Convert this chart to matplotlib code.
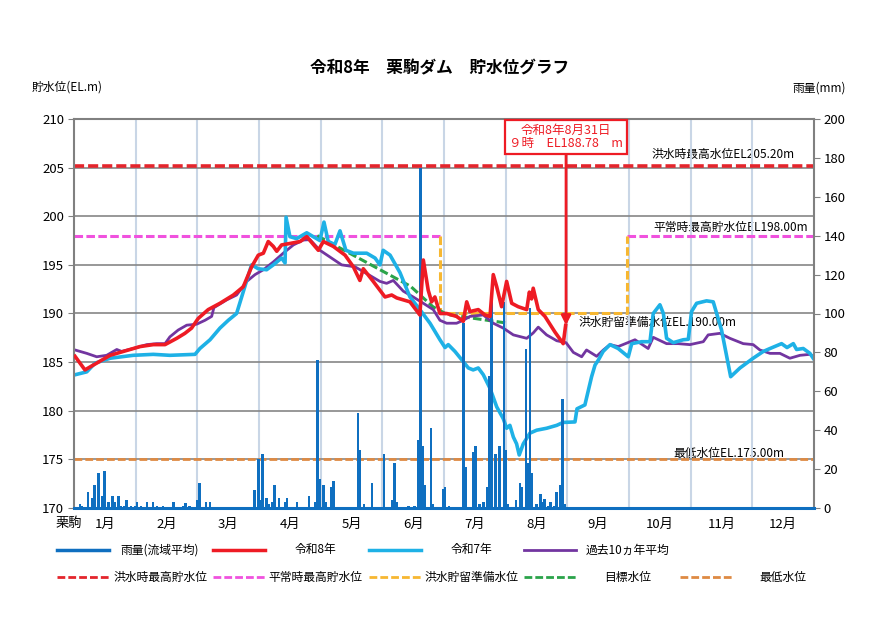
import numpy as np
import matplotlib
matplotlib.use('Agg')
import matplotlib.pyplot as plt
from matplotlib.lines import Line2D

plt.rcParams['font.family'] = ['Noto Sans CJK JP', 'DejaVu Sans']

# ---- data (x = day of year, 0 = Jan 1) ----
month_labels = ['1月', '2月', '3月', '4月', '5月', '6月', '7月', '8月', '9月', '10月', '11月', '12月']

# 令和8年 (to Aug 31)
r8_day = [0.5, 5.4, 11.2, 17.8, 26, 32.6, 39.1, 44.9, 50.7, 54.7, 58, 61.3, 66.2, 72, 78.6, 83.5,
          87.6, 90.9, 93.4, 95.8, 98.3, 100, 102.4, 106.5, 111.5, 114.8, 120.5, 123, 127.9, 133.7,
          137.8, 141, 142.7, 147.6, 153.4, 156.7, 159.2, 165.7, 170.6, 172.3, 174.7, 176.4, 178,
          180.5, 183.8, 188.7, 192, 193.7, 195.3, 199.4, 202.7, 205.2, 206.8, 208.5, 210.9, 213.4,
          215.9, 219.1, 223.3, 224.6, 225.7, 226.5, 229, 232.3, 237.2, 241.3, 242.5]
r8_lev = [185.6, 184.2, 184.9, 185.7, 186.2, 186.6, 186.8, 186.8, 187.45, 187.96, 188.5, 189.5,
          190.4, 191.05, 191.9, 192.75, 194.8, 196.0, 196.2, 197.4, 196.9, 196.4, 197.05, 197.2,
          197.4, 197.9, 196.5, 197.4, 196.9, 196.0, 194.8, 193.4, 194.6, 193.3, 191.7, 191.9,
          191.6, 191.2, 189.85, 195.5, 192.4, 191.2, 191.7, 190.0, 190.0, 189.7, 189.2, 191.2,
          190.2, 190.4, 189.85, 189.7, 194.0, 192.75, 190.7, 193.3, 191.05, 190.7, 190.4, 192.2,
          191.5, 192.6, 190.4, 189.7, 188.1, 186.9, 188.78]

# 令和7年
r7_day = [0.5, 6.3, 10.4, 17.8, 29.2, 39.1, 47.3, 59.7, 62.1, 67.1, 72, 76.1, 80.2, 82.7, 85.2,
          87.6, 90.9, 95, 98.3, 102.4, 104.1, 104.6, 106.5, 109.8, 114.8, 118, 121.3, 123.3, 125.4,
          128.7, 131.2, 134.1, 137.8, 144.4, 148.5, 150.9, 152.5, 155.9, 160.8, 165.7, 170.6,
          175.6, 180.5, 183, 184.6, 187.9, 192, 194.5, 196.9, 199.4, 201.9, 205.2, 208.5, 211.7,
          213.4, 215, 216.7, 218.3, 219.6, 221.6, 224.9, 228.2, 233.1, 238.1, 241.3, 247.1, 248.1,
          252, 253.7, 255.3, 257, 258.6, 261, 264.4, 268.4, 273.4, 275.1, 280, 284.1, 285.7, 289,
          290.7, 292.3, 295.6, 300.5, 303, 304.6, 307.1, 312, 315.3, 319.4, 323.9, 328.5, 335,
          340, 343.3, 349, 351.7, 354.8, 356.4, 359.7, 363, 364.6]
r7_lev = [183.7, 184.0, 184.9, 185.4, 185.7, 185.8, 185.7, 185.8, 186.4, 187.3, 188.5, 189.3,
          190.0, 191.7, 193.4, 195.0, 194.6, 194.5, 195.0, 195.7, 195.2, 199.9, 197.9, 197.7,
          198.3, 197.9, 197.5, 199.4, 197.4, 197.1, 198.5, 196.5, 196.2, 196.2, 195.7, 195.0,
          196.5, 196.0, 194.2, 191.7, 190.4, 189.0, 187.3, 186.5, 186.8, 186.1, 185.05, 184.4,
          184.2, 184.4, 183.7, 182.3, 180.4, 179.2, 178.2, 178.5, 177.3, 176.6, 175.45, 176.6,
          177.7, 178.0, 178.2, 178.5, 178.8, 178.85, 180.2, 180.6, 182.1, 183.5, 184.7, 185.2,
          186.1, 186.8, 186.4, 185.55, 186.9, 187.1, 187.1, 190.0, 190.9, 190.0, 187.45, 187.0,
          187.3, 187.35, 190.2, 191.05, 191.3, 191.2, 188.3, 183.5, 184.4, 185.4, 186.1, 186.4,
          186.9, 186.5, 186.9, 186.3, 186.4, 185.9, 185.4]

# 過去10ヵ年平均
avg_day = [0.5, 6.3, 11.2, 16.1, 21.1, 23.5, 29.2, 35.9, 40.8, 44.9, 47.3, 51.4, 55.6, 60.5, 64.6,
           67.9, 69, 75.3, 80.2, 85.2, 89.3, 93.4, 98.3, 103.2, 108.2, 113.1, 116.4, 121.3, 126.3,
           132, 138.6, 144.4, 150.9, 154.2, 157.5, 162.4, 167.3, 172.3, 177.2, 180.5, 183.8,
           188.7, 192, 195.3, 201.9, 206.8, 211.7, 216.7, 223.3, 226.5, 229, 233.1, 238.1, 242.7,
           246.3, 250.4, 252.8, 257.8, 261.1, 264.4, 268.4, 276.7, 283.2, 285.7, 292.3, 298,
           303.8, 310.4, 312.8, 318.6, 323.5, 330.1, 335, 338.3, 343.3, 348.2, 353.1, 358.1, 363,
           364.6]
avg_lev = [186.25, 185.9, 185.55, 185.7, 186.3, 186.1, 186.4, 186.8, 186.9, 186.9, 187.6, 188.3,
           188.8, 188.9, 189.3, 189.7, 190.6, 191.4, 191.9, 193.3, 194.0, 194.5, 195.3, 196.2,
           197.05, 197.55, 197.6, 196.5, 195.8, 195.0, 194.8, 194.1, 193.3, 193.1, 193.4, 192.3,
           191.7, 191.05, 190.4, 189.3, 189.0, 189.0, 189.3, 189.7, 189.85, 189.0, 188.5, 187.8,
           187.45, 188.0, 188.6, 187.8, 187.2, 187.0, 186.0, 185.55, 186.25, 185.6, 186.25, 186.8,
           186.6, 187.3, 186.4, 187.55, 186.9, 186.9, 186.8, 187.1, 187.8, 187.96, 187.45, 186.9,
           186.8, 186.25, 185.9, 185.9, 185.4, 185.7, 185.8, 185.6]

# 雨量(流域平均) daily, mm
rain_day = [0, 3, 4, 7, 9, 10, 12, 14, 15, 17, 19, 20, 22, 23, 25, 26, 28, 30, 31, 33, 36, 39, 41,
            44, 49, 54, 55, 57, 61, 62, 65, 67,
            89, 91, 92, 93, 95, 96, 98, 99, 101, 104, 105, 110, 116, 119, 120, 121, 123, 124, 127, 128,
            140, 141, 143, 147, 153, 157, 158, 159, 165, 168, 170, 171, 172, 173, 176, 177,
            182, 183, 185, 192, 193, 197, 198, 200, 202, 204, 205, 206, 208, 210, 212, 213, 214,
            218, 220, 221, 223, 224, 225, 226, 228, 230, 231, 232, 234, 235, 237, 238, 240, 241, 242]
rain_mm = [8, 2, 1, 8, 5, 12, 18, 6, 19, 3, 6, 3, 6, 1, 1, 4, 1, 1, 3, 1, 3, 3, 1, 1, 3, 1, 2.5,
           1, 4, 13, 3, 3,
           9, 25, 4, 28, 5, 2, 3, 12, 5, 3, 5, 3, 6, 3, 76, 15, 12, 3, 11, 14,
           49, 30, 2, 13, 28, 4, 23, 3, 1, 1, 35, 175, 32, 12, 41, 2,
           10, 11, 1, 95, 21, 29, 32, 2, 3, 11, 68, 110, 28, 32, 106, 30, 2,
           4, 13, 11, 82, 23, 103, 18, 2, 7, 3, 4.5, 1, 3, 1, 8, 12, 56, 2]

# management levels
flood_max = 205.2          # 洪水時最高水位
normal_max = 198.0         # 平常時最高貯水位
flood_prep = 190.0         # 洪水貯留準備水位
min_level = 175.0          # 最低水位
season_start, season_end = 180.5, 272.6   # flood season
target_day = [120, 166, 177, 184, 214]
target_lev = [198.0, 192.8, 190.7, 189.9, 189.0]

now_day, now_lev = 242.7, 188.78

# colours
C_RAIN = '#0f6fc0'
C_R8 = '#ee1b24'
C_R7 = '#1eb1e6'
C_AVG = '#7235a0'
C_FMAX = '#e4252c'
C_NORM = '#f052de'
C_PREP = '#f7b731'
C_TGT = '#2aa34a'
C_MIN = '#de8a43'
DASH = (0, (2.8, 1.1))

fig = plt.figure(figsize=(8.9, 6.3), dpi=100)
ax = fig.add_axes([74/890, 1-508/630, 740/890, 389/630])
ax2 = ax.twinx()
ax3 = ax.twinx()

# level axis
ax.set_xlim(0, 365)
ax.set_ylim(170, 210)
ax.set_yticks(np.arange(170, 211, 5))
ax.set_xticks((np.arange(12) + 0.5) * 365 / 12)
ax.set_xticklabels(month_labels)
ax.set_xticks(np.arange(1, 12) * 365 / 12, minor=True)
ax.grid(axis='y', color='#868686', lw=1.2)
ax.grid(axis='x', which='minor', color='#c9d6e6', lw=1.5)
ax.tick_params(axis='x', which='both', length=0, pad=7, labelsize=9.5)
ax.tick_params(axis='y', length=4, color='#808080', labelsize=9.5, pad=3)
for s in ax.spines.values():
    s.set_visible(False)

# reference levels
ax.plot([0, 365], [flood_max, flood_max], color=C_FMAX, lw=2.6, ls=DASH)
ax.plot([0, season_start], [normal_max, normal_max], color=C_NORM, lw=2.2, ls=DASH)
ax.plot([season_end, 365], [normal_max, normal_max], color=C_NORM, lw=2.2, ls=DASH)
ax.plot([season_start, season_start, season_end, season_end],
        [normal_max, flood_prep, flood_prep, normal_max], color=C_PREP, lw=2.2, ls=DASH)
ax.plot([0, 365], [min_level, min_level], color=C_MIN, lw=2.0, ls=DASH)
ax.plot(target_day, target_lev, color=C_TGT, lw=2.2, ls=DASH)

lab_box = dict(boxstyle='square,pad=0.05', fc='white', ec='none')
ax.text(355.6, 206.4, '洪水時最高水位EL205.20m', ha='right', va='center', fontsize=8.5,
        zorder=1.5, bbox=lab_box)
ax.text(362, 198.85, '平常時最高貯水位EL198.00m', ha='right', va='center', fontsize=8.5,
        zorder=1.5, bbox=lab_box)
ax.text(248.6, 189.1, '洪水貯留準備水位EL.190.00m', ha='left', va='center', fontsize=8.5, zorder=1.5)
ax.text(295.4, 175.65, '最低水位EL.175.00m', ha='left', va='center', fontsize=8.5, zorder=1.5)

ax.plot(avg_day, avg_lev, color=C_AVG, lw=2.0)
ax.plot(r7_day, r7_lev, color=C_R7, lw=2.6)

# rain axis
ax2.set_ylim(0, 200)
ax2.set_yticks(np.arange(0, 201, 20))
ax2.tick_params(axis='y', length=4, color='#808080', labelsize=9.5, pad=3)
ax2.bar(rain_day, rain_mm, width=1.25, color=C_RAIN, linewidth=0)
for k in ['left', 'right', 'top']:
    ax2.spines[k].set_color('#808080')
    ax2.spines[k].set_linewidth(1.5)
ax2.spines['bottom'].set_color(C_RAIN)
ax2.spines['bottom'].set_linewidth(2.2)

# current year on top
ax3.set_ylim(170, 210)
ax3.axis('off')
ax3.plot(r8_day, r8_lev, color=C_R8, lw=2.6)
ax3.annotate('令和8年8月31日\n９時　EL188.78　m', xy=(now_day, now_lev), xytext=(now_day, 208.15),
             ha='center', va='center', color=C_R8, fontsize=9, linespacing=1.1,
             bbox=dict(boxstyle='square,pad=0.3', fc='white', ec=C_R8, lw=1.6),
             arrowprops=dict(arrowstyle='-|>', color=C_R8, lw=2, mutation_scale=14,
                             shrinkA=0, shrinkB=0))

# titles and axis captions
fig.text(440/890, 1-68/630, '令和8年　栗駒ダム　貯水位グラフ', ha='center', va='center',
         fontsize=12, fontweight='bold')
fig.text(32/890, 1-87/630, '貯水位(EL.m)', ha='left', va='center', fontsize=8.5)
fig.text(846/890, 1-88/630, '雨量(mm)', ha='right', va='center', fontsize=8.5)
fig.text(69/890, 1-523/630, '栗駒', ha='center', va='center', fontsize=9.5)

# legend (two rows)
leg_rows = [
    [('雨量(流域平均)', C_RAIN, '-', 2.5), ('令和8年', C_R8, '-', 2.5),
     ('令和7年', C_R7, '-', 2.5), ('過去10ヵ年平均', C_AVG, '-', 2.0)],
    [('洪水時最高貯水位', C_FMAX, DASH, 2.0), ('平常時最高貯水位', C_NORM, DASH, 2.0),
     ('洪水貯留準備水位', C_PREP, DASH, 2.0), ('目標水位', C_TGT, DASH, 2.0),
     ('最低水位', C_MIN, DASH, 2.0)],
]
for r, (row, ypx) in enumerate(zip(leg_rows, [550, 577])):
    yf = 1 - ypx / 630
    for c, (lab, col, ls, lw) in enumerate(row):
        x0 = 57 + c * 155.8
        fig.add_artist(Line2D([x0 / 890, (x0 + 52) / 890], [yf, yf], color=col, ls=ls, lw=lw))
        fig.text((x0 + 103) / 890, yf, lab, ha='center', va='center', fontsize=8.5)

fig.savefig('out.png', dpi=100)
